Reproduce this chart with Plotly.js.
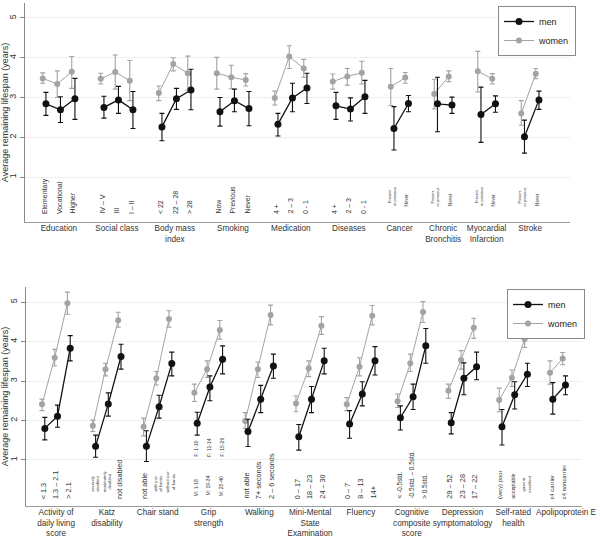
<!DOCTYPE html>
<html>
<head>
<meta charset="utf-8">
<script src="https://cdn.plot.ly/plotly-3.0.1.min.js"></script>
<style>
html,body{margin:0;padding:0;background:#fff;}
#chart{width:600px;height:539px;}
</style>
</head>
<body>
<div id="chart"></div>
<script>
// ---------- DATA: top panel ----------
const categoriesTop = ["Education","Social class","Body mass<br>index","Smoking","Medication","Diseases","Cancer","Chronic<br>Bronchitis","Myocardial<br>Infarction","Stroke"];
const levelsTop = [
  ["Elementary","Vocational","Higher"],
  ["IV – V","III","I – II"],
  ["< 22","22 – 28","> 28"],
  ["Now","Previous","Never"],
  ["4 +","2 – 3","0 - 1"],
  ["4 +","2 – 3","0 - 1"],
  ["Present<br>or previous","Never"],
  ["Present<br>or previous","Never"],
  ["Present<br>or previous","Never"],
  ["Present<br>or previous","Never"]
];
const menTop   = [[2.84,2.69,2.97],[2.75,2.94,2.69],[2.26,2.97,3.19],[2.64,2.92,2.72],[2.33,2.99,3.24],[2.79,2.71,3.02],[2.22,2.85],[2.84,2.81],[2.57,2.84],[2.01,2.94]];
const menTopLo = [[2.55,2.37,2.45],[2.48,2.60,2.22],[1.91,2.70,2.69],[2.28,2.64,2.29],[2.03,2.64,2.85],[2.45,2.41,2.60],[1.68,2.64],[2.14,2.60],[1.87,2.63],[1.60,2.70]];
const menTopHi = [[3.13,3.02,3.48],[3.03,3.28,3.15],[2.60,3.23,3.71],[3.00,3.21,3.15],[2.60,3.36,3.61],[3.13,2.99,3.43],[2.77,3.05],[3.51,3.01],[3.26,3.04],[2.43,3.16]];
const womenTop   = [[3.48,3.34,3.65],[3.47,3.64,3.42],[3.11,3.84,3.61],[3.61,3.51,3.44],[2.99,4.03,3.73],[3.40,3.53,3.62],[3.27,3.50],[3.09,3.53],[3.66,3.47],[2.60,3.60]];
const womenTopLo = [[3.36,3.00,3.23],[3.34,3.21,2.92],[2.92,3.67,3.19],[3.21,3.22,3.29],[2.81,3.73,3.51],[3.21,3.31,3.34],[2.80,3.36],[2.71,3.40],[3.14,3.34],[2.30,3.47]];
const womenTopHi = [[3.62,3.67,4.03],[3.61,4.07,3.93],[3.29,4.00,4.04],[4.01,3.81,3.60],[3.16,4.30,3.96],[3.59,3.73,3.91],[3.73,3.63],[3.46,3.67],[4.16,3.60],[2.92,3.73]];

// ---------- DATA: bottom panel ----------
const categoriesBottom = ["Activity of<br>daily living<br>score","Katz<br>disability","Chair stand","Grip<br>strength","Walking","Mini-Mental<br>State<br>Examination","Fluency","Cognitive<br>composite<br>score","Depression<br>symptomatology","Self-rated<br>health","Apolipoprotein E"];
const levelsBottom = [
  ["< 1.3","1.3 – 2.1","> 2.1"],
  ["severely<br>disabled","moderately<br>disabled","not disabled"],
  ["not able","with use<br>of hands","without use<br>of hands"],
  ["M: 1-18","M: 19-34","M: 25-40"],
  ["not able","7+ seconds","2 – 6 seconds"],
  ["0 – 17","18 – 23","24 – 30"],
  ["0 – 7","8 – 13","14+"],
  ["< -0.5std.","-0.5std. – 0.5std.","> 0.5std."],
  ["29 – 52","23 – 28","17 – 22"],
  ["(very) poor","acceptable","good or<br>excellent"],
  ["ε4 carrier","ε4 noncarrier"]
];
const gripFemaleLabels = ["F: 1-10","F: 11-14","F: 15-29"];
const menBottom   = [[1.80,2.11,3.83],[1.35,2.42,3.62],[1.35,2.35,3.44],[1.93,2.85,3.55],[1.72,2.54,3.38],[1.59,2.54,3.51],[1.91,2.67,3.51],[2.07,2.60,3.89],[1.94,3.07,3.36],[1.84,2.65,3.17],[2.54,2.90]];
const menBottomLo = [[1.51,1.83,3.51],[1.07,2.11,3.30],[0.96,2.06,3.13],[1.63,2.50,3.18],[1.34,2.20,3.07],[1.25,2.20,3.18],[1.55,2.37,3.15],[1.76,2.28,3.45],[1.66,2.65,3.03],[1.38,2.29,2.86],[2.16,2.65]];
const menBottomHi = [[2.08,2.39,4.15],[1.63,2.70,3.93],[1.74,2.64,3.73],[2.21,3.13,3.89],[2.03,2.89,3.68],[1.90,2.86,3.83],[2.25,2.98,3.87],[2.37,2.92,4.33],[2.20,3.46,3.73],[2.28,2.98,3.45],[2.96,3.13]];
const womenBottom   = [[2.41,3.59,4.97],[1.87,3.30,4.54],[1.84,3.07,4.57],[2.70,3.30,4.29],[1.99,3.30,4.67],[2.43,3.32,4.40],[2.41,3.36,4.65],[2.49,3.45,4.75],[2.75,3.53,4.35],[2.52,3.08,4.06],[3.21,3.57]];
const womenBottomLo = [[2.25,3.38,4.69],[1.72,3.13,4.36],[1.61,2.90,4.36],[2.48,3.09,4.06],[1.80,3.09,4.42],[2.22,3.11,4.18],[2.25,3.13,4.42],[2.33,3.24,4.48],[2.56,3.30,4.08],[2.22,2.86,3.85],[2.92,3.41]];
const womenBottomHi = [[2.54,3.80,5.25],[2.01,3.45,4.74],[2.06,3.24,4.78],[2.92,3.51,4.53],[2.20,3.48,4.92],[2.62,3.51,4.63],[2.58,3.59,4.91],[2.67,3.68,5.01],[2.92,3.77,4.59],[2.82,3.28,4.27],[3.51,3.72]];

const yTicks = [1,2,3,4,5];
const yTitle = "Average remaining lifespan (years)";

// ---------- helpers ----------
const FONT = "Liberation Sans, Arial, Helvetica, sans-serif";
const MEN = "#111111", WOMEN = "#a3a3a3";

function slots(levels){
  const out = []; let s = 1;
  levels.forEach(g => { out.push(g.map((_, j) => s + j)); s += g.length + 1; });
  return out;
}
function series(sl, v, lo, hi, off){
  const x = [], y = [], ep = [], em = [];
  sl.forEach((g, i) => {
    g.forEach((s, j) => { x.push(s + off); y.push(v[i][j]); ep.push(hi[i][j] - v[i][j]); em.push(v[i][j] - lo[i][j]); });
    x.push(null); y.push(null); ep.push(null); em.push(null);
  });
  return {x, y, ep, em};
}
function trace(d, name, color, size, lw, xa, ya, leg, rank){
  return {
    type: "scatter", mode: "lines+markers", name: name, x: d.x, y: d.y,
    xaxis: xa, yaxis: ya, legend: leg, legendrank: rank, connectgaps: false, cliponaxis: false,
    line: {color: color, width: lw},
    marker: {color: color, size: size, symbol: "circle"},
    error_y: {type: "data", symmetric: false, array: d.ep, arrayminus: d.em, color: color, thickness: 1.1, width: 2.5}
  };
}

const slTop = slots(levelsTop), slBot = slots(levelsBottom);
const OFF = 0.11;
const traces = [
  trace(series(slTop, womenTop, womenTopLo, womenTopHi, -OFF), "women", WOMEN, 6, 1, "x", "y", "legend", 2),
  trace(series(slTop, menTop, menTopLo, menTopHi, OFF), "men", MEN, 7, 1.3, "x", "y", "legend", 1),
  trace(series(slBot, womenBottom, womenBottomLo, womenBottomHi, -OFF), "women", WOMEN, 6, 1, "x2", "y2", "legend2", 2),
  trace(series(slBot, menBottom, menBottomLo, menBottomHi, OFF), "men", MEN, 7, 1.3, "x2", "y2", "legend2", 1)
];

const centersTop = slTop.map(g => g.reduce((a,b)=>a+b,0)/g.length);
const centersBot = slBot.map(g => g.reduce((a,b)=>a+b,0)/g.length);
// last bottom label sits a little to the right, as in the reference
centersBot[centersBot.length - 1] += 0.65;

// level label annotations
const annotations = [];
function labelStyle(text, panel, nLevels){
  if (text.indexOf("<br>") >= 0) return {size: panel === "top" ? 3.8 : 4.2, small: true};
  if (panel === "top" && nLevels === 2) return {size: 4.6, small: true};
  if (text.startsWith("M:")) return {size: 5.1, small: false, grip: true};
  if (text === "(very) poor" || text.startsWith("ε4")) return {size: 5.9, small: false};
  if (text === "acceptable") return {size: 5.2, small: false};
  if (text.indexOf("std.") >= 0) return {size: 6.4, small: false};
  return {size: panel === "top" ? 7 : 7.3, small: false};
}
function addLevelLabels(levels, sl, panel, xref, yref){
  levels.forEach((g, i) => g.forEach((t, j) => {
    const st = labelStyle(t, panel, g.length);
    let y;
    if (panel === "top") y = st.small ? 0.245 : 0.05;
    else y = st.small ? 0.16 : (st.grip ? 0.06 : -0.01);
    annotations.push({xref: xref, yref: yref, x: sl[i][j], y: y, text: t, textangle: -90,
      showarrow: false, xanchor: "center", yanchor: "bottom", borderpad: 0,
      font: {family: FONT, size: st.size, color: "#333"}});
  }));
}
addLevelLabels(levelsTop, slTop, "top", "x", "y");
addLevelLabels(levelsBottom, slBot, "bottom", "x2", "y2");
const gripIdx = categoriesBottom.indexOf("Grip<br>strength");
gripFemaleLabels.forEach((t, j) => annotations.push({xref: "x2", yref: "y2", x: slBot[gripIdx][j], y: 1.05, text: t,
  textangle: -90, showarrow: false, xanchor: "center", yanchor: "bottom", borderpad: 0,
  font: {family: FONT, size: 5.1, color: "#333"}}));

function yaxis(domain, range, anchor){
  return {domain: domain, range: range, anchor: anchor, tickvals: yTicks, ticktext: yTicks.map(String),
    tickangle: -90, ticks: "outside", ticklen: 4, tickcolor: "#888", tickwidth: 1,
    showline: true, linecolor: "#888", linewidth: 1, showgrid: true, gridcolor: "#efefef", gridwidth: 1,
    zeroline: false, tickfont: {family: FONT, size: 9, color: "#333"},
    title: {text: yTitle, font: {family: FONT, size: 9, color: "#333"}, standoff: 3}};
}
function xaxis(domain, range, anchor, centers, cats){
  return {domain: domain, range: range, anchor: anchor, tickvals: centers, ticktext: cats, ticks: "",
    tickangle: 0, ticklabelstandoff: -2, showline: true, linecolor: "#999", linewidth: 1.2, showgrid: false, zeroline: false,
    tickfont: {family: FONT, size: 8.2, color: "#333"}};
}

const layout = {
  width: 600, height: 539, margin: {l: 0, r: 0, t: 0, b: 0},
  paper_bgcolor: "#fff", plot_bgcolor: "#fff", showlegend: true,
  xaxis: xaxis([25/600, 570/600], [-0.334, 37.25], "y", centersTop, categoriesTop),
  yaxis: yaxis([1-222/539, 1-3/539], [-0.132, 5.377], "x"),
  xaxis2: xaxis([25.7/600, 582/600], [-0.394, 43.41], "y2", centersBot, categoriesBottom),
  yaxis2: yaxis([1-506/539, 1-287/539], [-0.165, 5.38], "x2"),
  legend: {x: 498/600, y: 1-6/539, xanchor: "left", yanchor: "top", bgcolor: "#fff", bordercolor: "#888", borderwidth: 1,
    font: {family: FONT, size: 9, color: "#222"}, tracegroupgap: 0, itemwidth: 30},
  legend2: {x: 507/600, y: 1-289/539, xanchor: "left", yanchor: "top", bgcolor: "#fff", bordercolor: "#888", borderwidth: 1,
    font: {family: FONT, size: 9, color: "#222"}, tracegroupgap: 0, itemwidth: 30},
  annotations: annotations,
  font: {family: FONT}
};
Plotly.newPlot("chart", traces, layout, {displayModeBar: false, staticPlot: true});
</script>
</body>
</html>
